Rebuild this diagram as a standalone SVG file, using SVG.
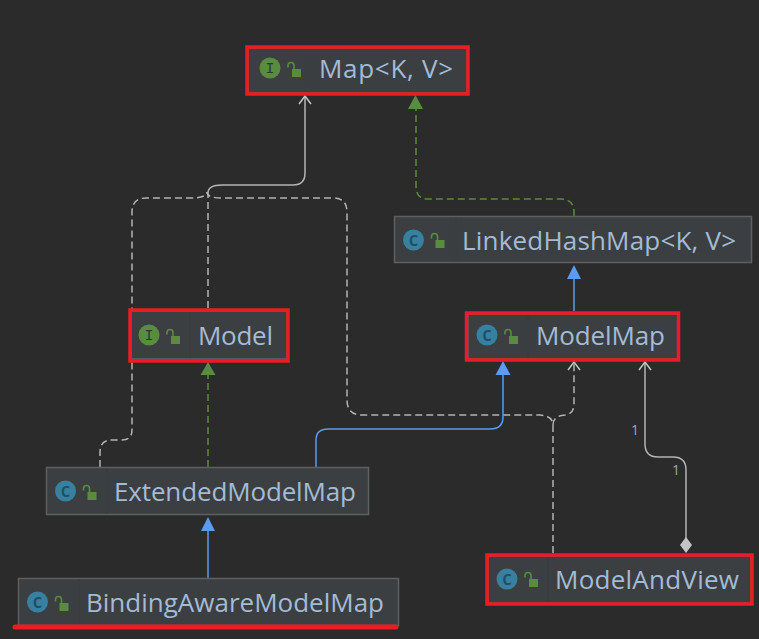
<svg xmlns="http://www.w3.org/2000/svg" width="759" height="639" viewBox="0 0 759 639">
<style>
text{font-family:"Open Sans","Noto Sans","DejaVu Sans",sans-serif}
.box{fill:#3c3f41;stroke:#5e6060;stroke-width:1.5}
.sep{stroke:#393b3d;stroke-width:1}
.name{font-size:26px;fill:#a3bbd5}
.hl{fill:none;stroke:#ed1c24;stroke-width:3.5}
.ci{fill:#598c3e}.cc{fill:#37809f}
.gl{font-size:15px;text-anchor:middle;fill:#2b3a2a;font-family:"Liberation Mono",monospace}
.glc{font-size:19px;font-weight:600;text-anchor:middle;fill:#1f4f64}
.lk{fill:#598c3e}
.lks{fill:none;stroke:#598c3e;stroke-width:1.6}
.c{fill:none;stroke-width:1.5}
.w{stroke:#b4b4b4}.d{stroke-dasharray:7 4}
.b{stroke:#5a9cf0}.g{stroke:#598c3e}
.ah{fill:none;stroke:#c4c4c4;stroke-width:1.5}
.mul{font-size:14px;fill:#a0a8b0}
</style>
<defs>
<g id="lock"><rect x="4" y="3" width="9" height="8" class="lk"/><path d="M0 1.5V-.5a3 3 0 0 1 6 0V3" class="lks"/></g>
</defs>
<rect width="759" height="639" fill="#2b2b2b"/>
<g id="connectors">
<path class="c w" d="M305 97V173Q305 185 293 185H222Q208 185 208 193"/>
<path class="ah" d="M299 104L305 96L311 104"/>
<path class="c w d" d="M208 308V193"/>
<path class="c w d" d="M100 467V452Q100 440 112 440H122Q132 440 132 430V212Q132 198 146 198H190Q207 198 207 192"/>
<path class="c w d" d="M553 553V425Q553 416 540 415H362Q347 415 347 400V212Q347 198 333 198H222Q207 198 207 192"/>
<path class="c w d" d="M553 425Q553 416 565 415Q574 414 574 404V362"/>
<path class="ah" d="M568 370L574 362L580 370"/>
<path class="c w" d="M645 362V444Q645 457 658 457H673Q686 457 686 470V540"/>
<path class="ah" d="M639 370L645 362L651 370"/>
<path d="M686 537L692 545L686 553L680 545Z" fill="#c4c4c4"/>
<path class="c g d" d="M574 216V212Q574 199 560 199H428Q416 199 416 186V105"/>
<path d="M408 109L415.500 95L423 109Z" fill="#598c3e"/>
<path class="c b" d="M574 311V276"/>
<path d="M567 279L574 265L581 279Z" fill="#5a9cf0"/>
<path class="c g d" d="M208 467V374"/>
<path d="M200.500 375L208 362L215.500 375Z" fill="#598c3e"/>
<path class="c b" d="M316 467V440Q316 429 328 429H490Q503 429 503 417V374"/>
<path d="M495.500 375L503 361L510.500 375Z" fill="#5a9cf0"/>
<path class="c b" d="M208 578V530"/>
<path d="M201 531L208 517L215 531Z" fill="#5a9cf0"/>
<text class="mul" x="631" y="435">1</text>
<text class="mul" x="672" y="475">1</text>
</g>
<g id="node-map">
<rect class="box" x="248" y="48" width="219" height="45"/>
<path class="sep" d="M312 49V92"/>
<circle class="ci" cx="270" cy="68" r="10.500"/><text class="gl" x="270" y="72.500">I</text>
<use href="#lock" x="288" y="66"/>
<text class="name" x="319" y="78" textLength="134">Map&lt;K, V&gt;</text>
<rect class="hl" x="247" y="47" width="221" height="47"/>
</g>
<g id="node-linkedhashmap">
<rect class="box" x="394.500" y="216.500" width="357" height="46"/>
<path class="sep" d="M456 217V262"/>
<circle class="cc" cx="413.500" cy="240" r="10.500"/><text class="glc" x="413.500" y="246">c</text>
<use href="#lock" x="431.500" y="237"/>
<text class="name" x="462" y="250" textLength="274">LinkedHashMap&lt;K, V&gt;</text>
</g>
<g id="node-model">
<rect class="box" x="131" y="311" width="156" height="48"/>
<path class="sep" d="M190 312V358"/>
<circle class="ci" cx="149" cy="335" r="10.500"/><text class="gl" x="149" y="339.500">I</text>
<use href="#lock" x="167" y="333"/>
<text class="name" x="198" y="345" textLength="75">Model</text>
<rect class="hl" x="130" y="310" width="158" height="51"/>
</g>
<g id="node-modelmap">
<rect class="box" x="468" y="314" width="210" height="45"/>
<path class="sep" d="M528 315V358"/>
<circle class="cc" cx="487" cy="335" r="10.500"/><text class="glc" x="487" y="341">c</text>
<use href="#lock" x="505" y="333"/>
<text class="name" x="536" y="345" textLength="129">ModelMap</text>
<rect class="hl" x="466.500" y="313" width="212" height="47"/>
</g>
<g id="node-extendedmodelmap">
<rect class="box" x="46.500" y="467.500" width="322" height="47"/>
<path class="sep" d="M107 468V514"/>
<circle class="cc" cx="65.500" cy="491" r="10.500"/><text class="glc" x="65.500" y="497">c</text>
<use href="#lock" x="83.500" y="489"/>
<text class="name" x="114" y="501" textLength="242">ExtendedModelMap</text>
</g>
<g id="node-bindingawaremodelmap">
<rect class="box" x="18.500" y="578.500" width="380" height="47"/>
<path class="sep" d="M79 579V625"/>
<circle class="cc" cx="37.500" cy="602" r="10.500"/><text class="glc" x="37.500" y="608">c</text>
<use href="#lock" x="55.500" y="600"/>
<text class="name" x="86" y="612" textLength="298">BindingAwareModelMap</text>
<path d="M15 627H396" fill="none" stroke="#ed1c24" stroke-width="5" stroke-linecap="round"/>
</g>
<g id="node-modelandview">
<rect class="box" x="488" y="556" width="263" height="47"/>
<path class="sep" d="M548 557V602"/>
<circle class="cc" cx="507" cy="579" r="10.500"/><text class="glc" x="507" y="585">c</text>
<use href="#lock" x="525" y="576"/>
<text class="name" x="555" y="589" textLength="184">ModelAndView</text>
<rect class="hl" x="487" y="555" width="265" height="49"/>
</g>
</svg>
